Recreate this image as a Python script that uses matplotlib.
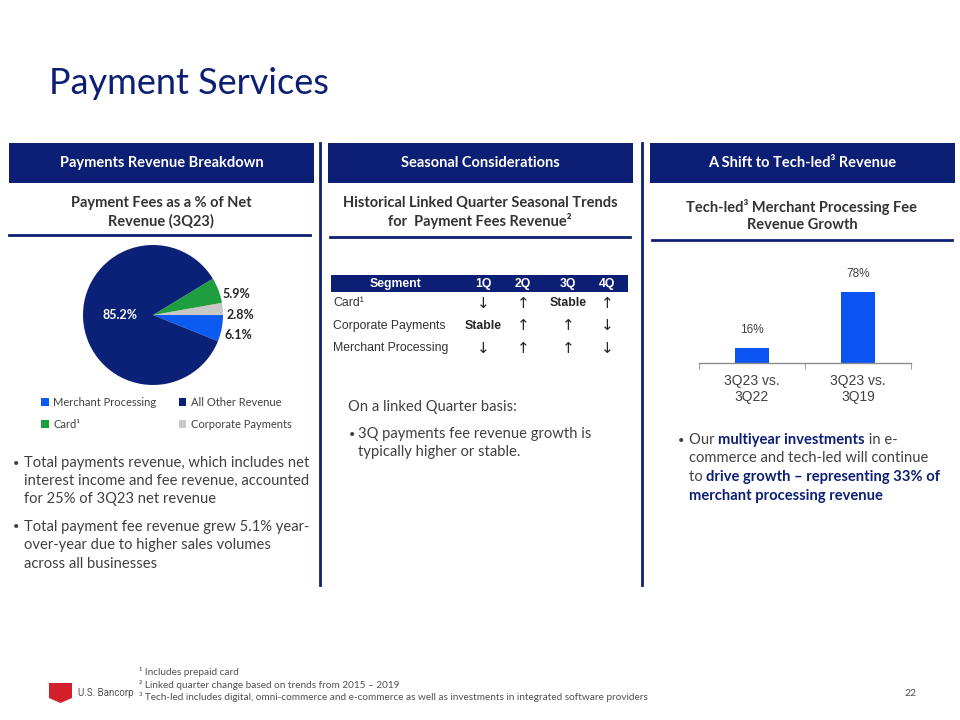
import matplotlib
matplotlib.use("Agg")
import matplotlib.pyplot as plt
from matplotlib.patches import Rectangle, Polygon
from matplotlib.lines import Line2D
import numpy as np

# ---------------- data ----------------
pie_labels = ["Merchant Processing", "All Other Revenue", "Card\u00b9", "Corporate Payments"]
pie_values = [6.1, 85.2, 5.9, 2.8]
pie_colors = ["#0B5BF0", "#0B2178", "#1E9E3E", "#C8C8C8"]
pie_draw_order = [0, 3, 2, 1]          # counter-clockwise from start angle

table_cols = ["Segment", "1Q", "2Q", "3Q", "4Q"]
table_rows = ["Card\u00b9", "Corporate Payments", "Merchant Processing"]
table_trends = [["\u2193", "\u2191", "Stable", "\u2191"],
                ["Stable", "\u2191", "\u2191", "\u2193"],
                ["\u2193", "\u2191", "\u2191", "\u2193"]]

bar_cats = ["3Q23 vs.\n3Q22", "3Q23 vs.\n3Q19"]
bar_vals = [16, 78]
bar_color = "#0A55F2"

NAVY = "#0C1F74"
GRAY = "#404040"
FONT = "Lato"
ARIAL = ["Liberation Sans", "DejaVu Sans"]
BODY = 10.6

W, H = 960, 720
fig = plt.figure(figsize=(9.6, 7.2), dpi=100)
fig.patch.set_facecolor("white")

def fx(x): return x / W
def fy(y): return 1 - y / H

def T(x, y, s, **kw):
    kw.setdefault("family", FONT)
    kw.setdefault("va", "center")
    return fig.text(fx(x), fy(y), s, **kw)

def rect(x0, y0, x1, y1, color):
    fig.patches.append(Rectangle((fx(x0), fy(y1)), fx(x1) - fx(x0), fy(y0) - fy(y1),
                                 transform=fig.transFigure, color=color, lw=0))

def hline(x0, x1, y, lw=2, color=NAVY):
    fig.add_artist(Line2D([fx(x0), fx(x1)], [fy(y), fy(y)], lw=lw, color=color,
                          transform=fig.transFigure))

def vline(x, y0, y1, lw=2, color=NAVY):
    fig.add_artist(Line2D([fx(x), fx(x)], [fy(y0), fy(y1)], lw=lw, color=color,
                          transform=fig.transFigure))

renderer = fig.canvas.get_renderer()

def text_width(s, **kw):
    t = fig.text(0, 0, "|" + s + "|", **kw)
    w1 = t.get_window_extent(renderer).width
    t.remove()
    t = fig.text(0, 0, "||", **kw)
    w2 = t.get_window_extent(renderer).width
    t.remove()
    return w1 - w2

def runs(x, y, parts, size):
    cx = x
    for s, bold in parts:
        kw = dict(family=FONT, fontsize=size,
                  fontweight="bold" if bold else "normal",
                  color=NAVY if bold else GRAY)
        T(cx, y, s, ha="left", **kw)
        cx += text_width(s, **kw)

# ---------------- title ----------------
T(49, 84, "Payment Services", fontsize=26, color=NAVY, ha="left")

# ---------------- headers ----------------
headers = [(9, 314, "Payments Revenue Breakdown"),
           (328, 633, "Seasonal Considerations"),
           (650, 955, "A Shift to Tech-led\u00b3 Revenue")]
for x0, x1, s in headers:
    rect(x0, 143, x1, 183, NAVY)
    T((x0 + x1) / 2, 163, s, ha="center", color="white", fontsize=10.5, fontweight="bold")

vline(320, 143, 585)
vline(642, 143, 585)

subs = [(161, 203, "Payment Fees as a % of Net\nRevenue (3Q23)"),
        (480, 203, "Historical Linked Quarter Seasonal Trends\nfor  Payment Fees Revenue\u00b2"),
        (802, 207, "Tech-led\u00b3 Merchant Processing Fee\nRevenue Growth")]
for x, y, s in subs:
    for i, line in enumerate(s.split("\n")):
        T(x, y + 18 * i, line, ha="center", color="#333333", fontsize=10.5, fontweight="bold")

hline(9, 310, 235)
hline(330, 630, 237)
hline(652, 952, 240)

# ---------------- pie ----------------
cx, cy, r = 153, 315, 70
axp = fig.add_axes([fx(cx - r), fy(cy + r), 2 * r / W, 2 * r / H])
vals = [pie_values[i] for i in pie_draw_order]
cols = [pie_colors[i] for i in pie_draw_order]
wedges, _ = axp.pie(vals, colors=cols, startangle=-22, counterclock=True,
                    wedgeprops=dict(linewidth=0))
axp.set_xlim(-1, 1)
axp.set_ylim(-1, 1)
axp.set_aspect("equal")
axp.axis("off")
wmap = {pie_draw_order[k]: wedges[k] for k in range(len(wedges))}
w_all = wmap[1]
mid = np.deg2rad((w_all.theta1 + w_all.theta2) / 2)
axp.text(0.47 * np.cos(mid), 0.0, f"{pie_values[1]:.1f}%", ha="center", va="center",
         color="white", fontsize=9, fontweight="bold", family=FONT)
for idx, xx, yy in [(2, 0.99, 0.30), (3, 1.05, 0.0), (0, 1.02, -0.29)]:
    axp.text(xx, yy, f"{pie_values[idx]:.1f}%", ha="left", va="center",
             color="#262626", fontsize=9, fontweight="bold", family=FONT)

leg_order = [0, 2, 1, 3]
axp.legend([wmap[i] for i in leg_order], [pie_labels[i] for i in leg_order],
           ncol=2, loc="upper left", bbox_to_anchor=(fx(41), fy(397)),
           bbox_transform=fig.transFigure, frameon=False,
           prop=dict(family=FONT, size=8), labelcolor=GRAY,
           handlelength=0.7, handleheight=0.7, handletextpad=0.4,
           columnspacing=2.0, labelspacing=0.95, borderpad=0, borderaxespad=0)

# ---------------- left bullets ----------------
left_b = [["Total payments revenue, which includes net",
           "interest income and fee revenue, accounted",
           "for 25% of 3Q23 net revenue"],
          ["Total payment fee revenue grew 5.1% year-",
           "over-year due to higher sales volumes",
           "across all businesses"]]
ys = [[463, 481, 499], [527, 545, 564]]
for lines, yl in zip(left_b, ys):
    T(13, yl[0], "\u2022", ha="left", color=GRAY, fontsize=8)
    for line, y in zip(lines, yl):
        T(24, y, line, ha="left", color=GRAY, fontsize=BODY)

# ---------------- table ----------------
rect(331, 275, 628, 292, NAVY)
col_x = [396, 483, 523, 568, 607]
for x, s in zip(col_x, table_cols):
    T(x, 283.5, s, ha="center", color="white", fontsize=8.8, fontweight="bold", family=ARIAL)
row_y = [303, 326, 348]
for y, name, trends in zip(row_y, table_rows, table_trends):
    T(333, y, name, ha="left", color="#333333", fontsize=8.8, family=ARIAL)
    for x, s in zip(col_x[1:], trends):
        if s == "Stable":
            T(x, y, s, ha="center", color="#262626", fontsize=8.8, fontweight="bold", family=ARIAL)
        else:
            T(x, y, s, ha="center", color="#262626", fontsize=11, family=["DejaVu Sans"])

T(348, 407, "On a linked Quarter basis:", ha="left", color=GRAY, fontsize=BODY)
T(349, 434, "\u2022", ha="left", color=GRAY, fontsize=8)
T(358, 434, "3Q payments fee revenue growth is", ha="left", color=GRAY, fontsize=BODY)
T(358, 452, "typically higher or stable.", ha="left", color=GRAY, fontsize=BODY)

# ---------------- bar chart ----------------
axb = fig.add_axes([fx(699), fy(363), 212 / W, 110 / H])
xs = np.arange(len(bar_vals))
bars = axb.bar(xs, bar_vals, width=0.33, color=bar_color)
axb.set_xlim(-0.5, 1.5)
axb.set_ylim(0, 121)
for s in ["top", "right", "left"]:
    axb.spines[s].set_visible(False)
axb.spines["bottom"].set_color("#8C8C8C")
axb.spines["bottom"].set_linewidth(1)
axb.set_yticks([])
axb.set_xticks(xs)
axb.set_xticklabels(bar_cats, family=ARIAL, fontsize=10, color="#404040", linespacing=1.15)
axb.tick_params(axis="x", length=0, pad=8)
axb.set_xticks([-0.5, 0.5, 1.5], minor=True)
axb.tick_params(axis="x", which="minor", length=4, color="#8C8C8C", direction="out")
for b, v in zip(bars, bar_vals):
    axb.annotate(f"{v}%", (b.get_x() + b.get_width() / 2, v), xytext=(0, 9),
                 textcoords="offset points", ha="center", va="bottom",
                 family=ARIAL, fontsize=8.5, color="#404040")
axb.patch.set_alpha(0)

# ---------------- right bullet ----------------
T(678, 440, "\u2022", ha="left", color=GRAY, fontsize=8)
runs(689, 440, [("Our ", False), ("multiyear investments", True), (" in e-", False)], BODY)
runs(689, 458, [("commerce and tech-led will continue", False)], BODY)
runs(689, 477, [("to ", False), ("drive growth \u2013 representing 33% of", True)], BODY)
runs(689, 496, [("merchant processing revenue", True)], BODY)

# ---------------- footer ----------------
fig.patches.append(Polygon([(fx(49), fy(683)), (fx(72), fy(683)), (fx(72), fy(698)),
                            (fx(60.5), fy(703)), (fx(49), fy(698))],
                           closed=True, transform=fig.transFigure, color="#D21F2B", lw=0))
T(78, 693, "U.S. Bancorp", ha="left", color="#505050", fontsize=7, family="Roboto")
foot = ["\u00b9 Includes prepaid card",
        "\u00b2 Linked quarter change based on trends from 2015 \u2013 2019",
        "\u00b3 Tech-led includes digital, omni-commerce and e-commerce as well as investments in integrated software providers"]
for i, s in enumerate(foot):
    T(139, 672 + 12.5 * i, s, ha="left", color="#505050", fontsize=7.2)
T(904, 693, "22", ha="left", color="#505050", fontsize=7.5)

fig.savefig("out.png", dpi=100, facecolor="white")
